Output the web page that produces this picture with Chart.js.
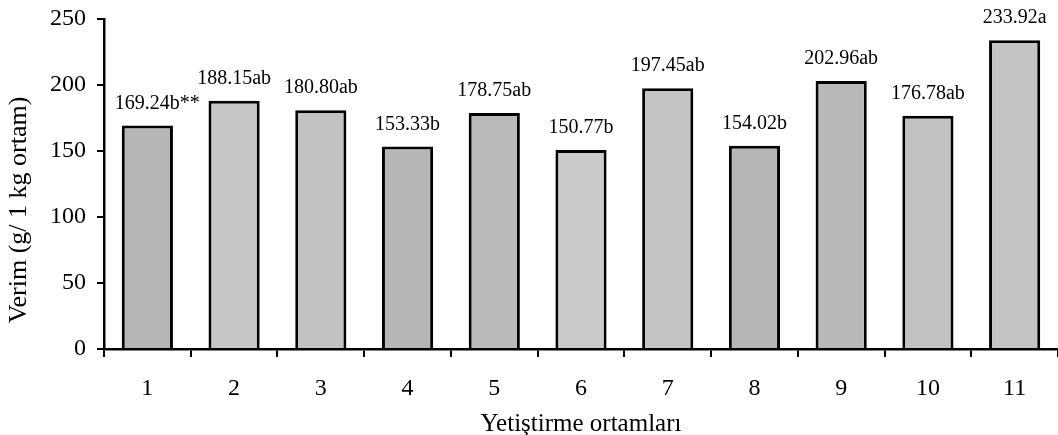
<!DOCTYPE html>
<html><head><meta charset="utf-8">
<script src="https://cdn.jsdelivr.net/npm/chart.js@4/dist/chart.umd.min.js"></script>
<style>html,body{margin:0;padding:0;background:#fff}#wrap{width:1058px;height:435px}</style>
</head><body><div id="wrap"><canvas id="c" width="1058" height="435"></canvas></div>
<script>
const categories = ['1','2','3','4','5','6','7','8','9','10','11'];
const values = [169.24,188.15,180.80,153.33,178.75,150.77,197.45,154.02,202.96,176.78,233.92];
const valueLabels = ['169.24b**','188.15ab','180.80ab','153.33b','178.75ab','150.77b','197.45ab','154.02b','202.96ab','176.78ab','233.92a'];
const yTicks = [0,50,100,150,200,250];
const barColors = ['#b6b6b6','#c6c6c6','#c2c2c2','#b6b6b6','#bababa','#cacaca','#c4c4c4','#b6b6b6','#b8b8b8','#c2c2c2','#c4c4c4'];
const FONT = "'Liberation Serif', 'Times New Roman', serif";

const labelPlugin = {
  id:'valueLabels',
  afterDatasetsDraw(chart){
    const ctx = chart.ctx;
    const meta = chart.getDatasetMeta(0);
    ctx.save();
    ctx.font = "20px " + FONT;
    ctx.fillStyle = '#000';
    ctx.textAlign = 'left';
    ctx.textBaseline = 'alphabetic';
    meta.data.forEach((el,i)=>{
      const txt = valueLabels[i];
      const base = txt.replace(/\*+$/, '');
      const w = ctx.measureText(base).width;
      ctx.fillText(txt, el.x - w/2, el.y - 17);
    });
    ctx.restore();
  }
};

new Chart(document.getElementById('c'), {
  type:'bar',
  data:{labels:categories, datasets:[{data:values, backgroundColor:barColors, borderColor:'#000', borderWidth:3, borderSkipped:'bottom', barPercentage:0.59, categoryPercentage:1.0}]},
  plugins:[labelPlugin],
  options:{
    responsive:false, animation:false, devicePixelRatio:1,
    layout:{padding:{left:2,right:0,top:19,bottom:0}},
    plugins:{legend:{display:false}, tooltip:{enabled:false}},
    scales:{
      x:{
        offset:true,
        afterFit(axis){ axis.height = 86; axis.paddingLeft = 0; axis.paddingRight = 0; },
        grid:{display:true, offset:true, drawOnChartArea:false, drawTicks:true, tickLength:8, color:'#000', lineWidth:2},
        border:{display:true, color:'#000', width:2.5},
        ticks:{font:{family:FONT,size:24}, color:'#000', padding:17},
        title:{display:true, text:'Yetiştirme ortamları', font:{family:FONT,size:25,lineHeight:0.85}, color:'#000', padding:{top:0,bottom:0}}
      },
      y:{
        min:0, max:250,
        afterFit(axis){ axis.width = 102; axis.paddingTop = 0; axis.paddingBottom = 0; },
        afterBuildTicks(axis){ axis.ticks = yTicks.map(v=>({value:v})); },
        grid:{display:true, drawOnChartArea:false, drawTicks:true, tickLength:7, color:'#000', lineWidth:2},
        border:{display:true, color:'#000', width:2.5},
        ticks:{font:{family:FONT,size:24}, color:'#000', padding:11},
        title:{display:true, text:'Verim (g/ 1 kg ortam)\u00A0\u00A0\u00A0\u00A0\u00A0\u00A0\u00A0\u00A0', font:{family:FONT,size:26}, color:'#000', padding:{top:2,bottom:0}}
      }
    }
  }
});
</script></body></html>
